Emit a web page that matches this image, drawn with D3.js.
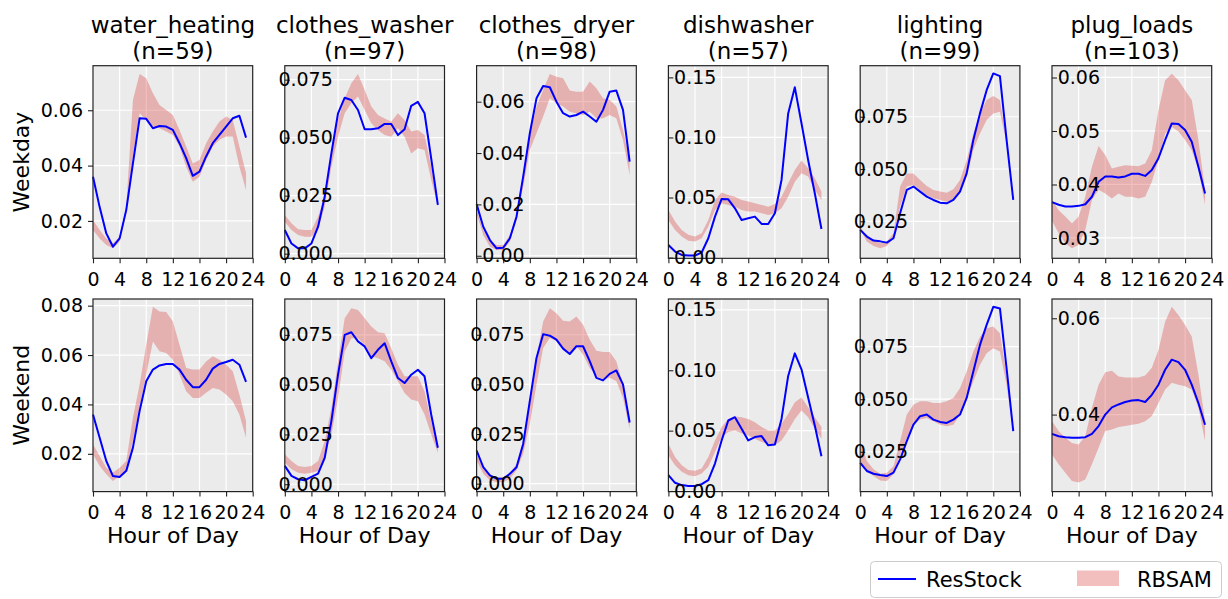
<!DOCTYPE html>
<html><head><meta charset="utf-8">
<script src="https://cdn.jsdelivr.net/npm/d3@7"></script>
<style>
body{margin:0;background:#fff}
svg{display:block}
text{font-family:"DejaVu Sans",sans-serif;fill:#000}
</style>
</head><body>
<svg id="c" width="1228" height="599"></svg>
<script>
// ---------- data ----------
const appliances = ["water_heating","clothes_washer","clothes_dryer","dishwasher","lighting","plug_loads"];
const sampleCounts = [59,97,98,57,99,103];
const dayTypes = ["Weekday","Weekend"];
const hours = [0,1,2,3,4,5,6,7,8,9,10,11,12,13,14,15,16,17,18,19,20,21,22,23];
const xTicks = [0,4,8,12,16,20,24];
const seriesNames = ["ResStock","RBSAM"];

// Weekday
const wh_wd_res = [0.036,0.025,0.0155,0.0107,0.0137,0.024,0.0408,0.0571,0.0569,0.0535,0.0543,0.0541,0.0529,0.0481,0.0427,0.0363,0.0378,0.0433,0.0481,0.0511,0.0541,0.0571,0.058,0.0501];
const wh_wd_lo  = [0.0167,0.0137,0.0113,0.0101,0.0125,0.0228,0.0433,0.0589,0.0565,0.0541,0.0535,0.0523,0.0511,0.0469,0.0396,0.0342,0.036,0.042,0.0469,0.0493,0.0505,0.0505,0.0396,0.0312];
const wh_wd_hi  = [0.0203,0.0167,0.0137,0.0119,0.0143,0.0252,0.0637,0.0731,0.0716,0.0661,0.0619,0.0601,0.0583,0.0529,0.0469,0.0408,0.042,0.0481,0.0523,0.0559,0.0577,0.0565,0.0469,0.0372];

const cw_wd_res = [0.0102,0.0044,0.0023,0.0023,0.0044,0.0116,0.0246,0.0432,0.0605,0.0672,0.0662,0.0619,0.0536,0.0536,0.054,0.0559,0.0559,0.0511,0.0536,0.0637,0.0654,0.0605,0.0411,0.021];
const cw_wd_lo  = [0.0138,0.0102,0.008,0.0073,0.0073,0.0102,0.0203,0.0375,0.0504,0.0605,0.0648,0.0677,0.0619,0.0562,0.0533,0.0511,0.0504,0.054,0.0504,0.0432,0.0454,0.0447,0.0318,0.0203];
const cw_wd_hi  = [0.0167,0.0131,0.0105,0.0102,0.0102,0.0159,0.0246,0.0432,0.0576,0.067,0.0734,0.0774,0.0705,0.0634,0.0598,0.0583,0.0569,0.0605,0.0576,0.0526,0.0533,0.0511,0.0375,0.0217];

const cd_wd_res = [0.0201,0.0113,0.0061,0.0029,0.0031,0.0068,0.0152,0.0308,0.0477,0.0613,0.0661,0.0656,0.06,0.0555,0.0542,0.0548,0.0561,0.0542,0.0522,0.0568,0.0639,0.0643,0.0568,0.0366];
const cd_wd_lo  = [0.0165,0.0081,0.0035,0.0022,0.0022,0.0055,0.0139,0.0269,0.0412,0.0477,0.0542,0.0613,0.0594,0.0581,0.0561,0.0555,0.0548,0.0561,0.0535,0.0535,0.0548,0.0535,0.0451,0.0314];
const cd_wd_hi  = [0.0178,0.01,0.0055,0.0042,0.0042,0.0081,0.0165,0.0321,0.0477,0.0581,0.0645,0.0708,0.0697,0.0691,0.0643,0.0639,0.0639,0.0678,0.0652,0.0613,0.0607,0.0581,0.049,0.0373];

const dw_wd_res = [0.0105,0.005,0.0022,0.0017,0.0017,0.0042,0.0161,0.0341,0.0488,0.0485,0.041,0.0313,0.0327,0.0341,0.028,0.028,0.0369,0.0646,0.12,0.1417,0.1118,0.0812,0.0535,0.0238];
const dw_wd_lo  = [0.0313,0.023,0.0175,0.0141,0.0133,0.0161,0.0258,0.0397,0.0452,0.0438,0.0424,0.0397,0.0383,0.0383,0.0369,0.0355,0.0369,0.041,0.0507,0.0632,0.0702,0.0674,0.0563,0.048];
const dw_wd_hi  = [0.0397,0.03,0.023,0.0189,0.0175,0.0202,0.0313,0.048,0.0541,0.0521,0.0507,0.048,0.0466,0.0452,0.0438,0.0424,0.0446,0.0507,0.0618,0.0729,0.0807,0.0743,0.066,0.0549];

const lt_wd_res = [0.0209,0.0177,0.0158,0.0154,0.0148,0.0169,0.0288,0.04,0.0416,0.0392,0.0368,0.0352,0.0339,0.0336,0.0352,0.0392,0.0479,0.0639,0.0766,0.0877,0.0957,0.0944,0.0639,0.0352];
const lt_wd_lo  = [0.0209,0.0153,0.0132,0.0121,0.0132,0.0169,0.032,0.0416,0.0424,0.04,0.0376,0.036,0.0352,0.0344,0.0352,0.0392,0.0463,0.0591,0.067,0.0734,0.0766,0.0774,0.0623,0.0352];
const lt_wd_hi  = [0.0225,0.0177,0.0161,0.0145,0.0153,0.0193,0.0416,0.0479,0.0479,0.0447,0.0419,0.04,0.0392,0.0387,0.0403,0.0447,0.0543,0.067,0.0766,0.083,0.0849,0.083,0.0639,0.0368];

const pl_wd_res = [0.0367,0.0362,0.0359,0.0359,0.036,0.0363,0.0377,0.0405,0.0415,0.0415,0.0413,0.0415,0.042,0.042,0.0416,0.0427,0.0449,0.0483,0.0514,0.0513,0.0502,0.048,0.0433,0.0383];
const pl_wd_lo  = [0.0332,0.0309,0.029,0.0281,0.0287,0.0315,0.0371,0.039,0.0383,0.0374,0.0383,0.0377,0.0377,0.0374,0.0377,0.0405,0.0446,0.0495,0.0508,0.0499,0.0483,0.0464,0.0427,0.0362];
const pl_wd_hi  = [0.0371,0.0352,0.034,0.0327,0.034,0.0377,0.0433,0.0472,0.0455,0.043,0.0433,0.0436,0.0435,0.0434,0.0439,0.0464,0.0539,0.0595,0.0607,0.0595,0.0576,0.0558,0.0483,0.039];

// Weekend
const wh_we_res = [0.0359,0.0265,0.0171,0.011,0.0106,0.0131,0.0225,0.0373,0.0494,0.0541,0.0558,0.0564,0.0564,0.0541,0.05,0.047,0.047,0.05,0.0545,0.0564,0.0572,0.0581,0.0561,0.0491];
const wh_we_lo  = [0.0198,0.0151,0.0117,0.009,0.011,0.0131,0.0252,0.0386,0.0521,0.0655,0.0615,0.0608,0.0581,0.0521,0.0453,0.0426,0.0426,0.0447,0.0467,0.046,0.044,0.0413,0.0359,0.0265];
const wh_we_hi  = [0.0238,0.0191,0.0144,0.0124,0.0144,0.0171,0.0346,0.048,0.0642,0.0796,0.0776,0.0774,0.0736,0.0642,0.0548,0.0541,0.0541,0.0574,0.0595,0.0581,0.0561,0.0534,0.044,0.0332];

const cw_we_res = [0.0092,0.0042,0.0025,0.002,0.0037,0.0053,0.0133,0.0317,0.055,0.075,0.0763,0.0717,0.0692,0.0633,0.0675,0.0708,0.0617,0.0533,0.0508,0.055,0.0575,0.0542,0.035,0.0183];
const cw_we_lo  = [0.0108,0.0075,0.0058,0.0053,0.0058,0.0067,0.0142,0.025,0.0433,0.0667,0.0733,0.0733,0.07,0.0642,0.0633,0.0617,0.0575,0.0517,0.0458,0.0425,0.0417,0.035,0.025,0.0158];
const cw_we_hi  = [0.015,0.0117,0.0092,0.0087,0.0092,0.0117,0.0217,0.0383,0.0617,0.0833,0.0883,0.0875,0.0833,0.0792,0.0763,0.0758,0.0683,0.06,0.0542,0.0542,0.0542,0.0467,0.0317,0.0183];

const cd_we_res = [0.0167,0.0083,0.0042,0.0025,0.0025,0.005,0.0083,0.02,0.0417,0.0633,0.0753,0.0745,0.0725,0.068,0.0653,0.0692,0.0692,0.0617,0.0533,0.052,0.0553,0.057,0.05,0.0308];
const cd_we_lo  = [0.0117,0.005,0.0017,0.0008,0.0008,0.0025,0.0067,0.015,0.03,0.05,0.0683,0.0733,0.0717,0.0675,0.0658,0.0692,0.065,0.0583,0.0542,0.0525,0.0533,0.0517,0.0433,0.0275];
const cd_we_hi  = [0.015,0.0075,0.0042,0.003,0.0033,0.005,0.01,0.0217,0.0417,0.0633,0.0817,0.0883,0.0858,0.082,0.0817,0.0842,0.08,0.0725,0.067,0.0663,0.0663,0.0617,0.05,0.0333];

const dw_we_res = [0.0131,0.0068,0.0049,0.0041,0.0041,0.0057,0.009,0.0227,0.0419,0.0584,0.0611,0.0515,0.0419,0.0447,0.0455,0.0378,0.0386,0.0597,0.0953,0.114,0.1008,0.0775,0.0542,0.0288];
const dw_we_lo  = [0.0296,0.0214,0.0159,0.0131,0.0123,0.0145,0.02,0.0323,0.0447,0.0488,0.0501,0.0479,0.046,0.0433,0.0405,0.0392,0.0378,0.0419,0.0501,0.0597,0.0666,0.0611,0.0515,0.0433];
const dw_we_hi  = [0.0392,0.0282,0.0214,0.0173,0.0167,0.0186,0.0282,0.0419,0.0529,0.0597,0.0616,0.0611,0.0597,0.057,0.0529,0.0501,0.0501,0.0556,0.0638,0.0734,0.0775,0.0693,0.0611,0.0529];

const lt_we_res = [0.0198,0.0159,0.0146,0.014,0.0135,0.0151,0.0214,0.0301,0.0379,0.0419,0.0427,0.0403,0.0392,0.0387,0.0403,0.0427,0.0506,0.0632,0.0758,0.0853,0.0939,0.0931,0.0647,0.0348];
const lt_we_lo  = [0.0198,0.0159,0.0135,0.0114,0.0111,0.0143,0.0237,0.0316,0.0379,0.0403,0.0411,0.0395,0.0379,0.0372,0.0379,0.0427,0.0506,0.0584,0.0663,0.0718,0.0742,0.0726,0.0569,0.034];
const lt_we_hi  = [0.0293,0.0206,0.0167,0.0146,0.0151,0.0182,0.0301,0.0427,0.0474,0.049,0.049,0.0482,0.0482,0.049,0.0506,0.0553,0.0632,0.0726,0.0797,0.0837,0.0845,0.0813,0.0616,0.0364];

const pl_we_res = [0.036,0.0355,0.0353,0.0352,0.0352,0.0353,0.036,0.0376,0.04,0.0415,0.0421,0.0426,0.0429,0.043,0.0426,0.0441,0.0462,0.0493,0.0514,0.0509,0.0493,0.0462,0.0424,0.0379];
const pl_we_lo  = [0.0317,0.0297,0.0279,0.0262,0.0259,0.0265,0.0297,0.0331,0.0366,0.0369,0.0374,0.0376,0.0379,0.0381,0.0386,0.0397,0.0424,0.0452,0.0466,0.0462,0.0459,0.0452,0.0414,0.0345];
const pl_we_hi  = [0.0386,0.0366,0.0352,0.0341,0.0338,0.0355,0.0414,0.0462,0.0488,0.0491,0.0479,0.0477,0.0477,0.0477,0.0481,0.0497,0.0534,0.0593,0.0624,0.0607,0.0586,0.0562,0.0483,0.0386];

// axis limits and tick labels
const yLimWeekday = [[0.0065,0.0761],[-0.002,0.081],[-0.001,0.074],[-0.0006,0.1597],[0.0073,0.0994],[0.0262,0.0622]];
const yLimWeekend = [[0.0047,0.0827],[-0.0037,0.093],[-0.004,0.093],[-0.0005,0.159],[0.0061,0.0976],[0.024,0.064]];
const yTicksWeekday = [[0.02,0.04,0.06],[0,0.025,0.05,0.075],[0,0.02,0.04,0.06],[0,0.05,0.1,0.15],[0.025,0.05,0.075],[0.03,0.04,0.05,0.06]];
const yTicksWeekend = [[0.02,0.04,0.06,0.08],[0,0.025,0.05,0.075],[0,0.025,0.05,0.075],[0,0.05,0.1,0.15],[0.025,0.05,0.075],[0.04,0.06]];
const yFmtWeekday = [".2f",".3f",".2f",".2f",".3f",".2f"];
const yFmtWeekend = [".2f",".3f",".3f",".2f",".3f",".2f"];

const resWeekday = [wh_wd_res,cw_wd_res,cd_wd_res,dw_wd_res,lt_wd_res,pl_wd_res];
const loWeekday  = [wh_wd_lo,cw_wd_lo,cd_wd_lo,dw_wd_lo,lt_wd_lo,pl_wd_lo];
const hiWeekday  = [wh_wd_hi,cw_wd_hi,cd_wd_hi,dw_wd_hi,lt_wd_hi,pl_wd_hi];
const resWeekend = [wh_we_res,cw_we_res,cd_we_res,dw_we_res,lt_we_res,pl_we_res];
const loWeekend  = [wh_we_lo,cw_we_lo,cd_we_lo,dw_we_lo,lt_we_lo,pl_we_lo];
const hiWeekend  = [wh_we_hi,cw_we_hi,cd_we_hi,dw_we_hi,lt_we_hi,pl_we_hi];

// ---------- layout ----------
const L = {left:93, top:65.7, pw:159.7, ph:192.6, colStep:191.8, rowStep:233.3};
const BAND = "#d62728", LINE = "#0000ff", BG = "#ebebeb";
const svg = d3.select("#c");

const rows = [
  {name:dayTypes[0], res:resWeekday, lo:loWeekday, hi:hiWeekday, lim:yLimWeekday, ticks:yTicksWeekday, fmt:yFmtWeekday},
  {name:dayTypes[1], res:resWeekend, lo:loWeekend, hi:hiWeekend, lim:yLimWeekend, ticks:yTicksWeekend, fmt:yFmtWeekend}
];

rows.forEach((row, r) => {
  appliances.forEach((app, c) => {
    const x0 = L.left + c*L.colStep, y0 = L.top + r*L.rowStep;
    const g = svg.append("g").attr("transform", `translate(${x0},${y0})`);
    const x = d3.scaleLinear().domain([0,24]).range([0,L.pw]);
    const y = d3.scaleLinear().domain(row.lim[c]).range([L.ph,0]);

    g.append("rect").attr("width",L.pw).attr("height",L.ph).attr("fill",BG);
    // grid
    g.selectAll(".gx").data(xTicks).enter().append("line")
      .attr("x1",d=>x(d)).attr("x2",d=>x(d)).attr("y1",0).attr("y2",L.ph)
      .attr("stroke","#fff").attr("stroke-width",1.2);
    g.selectAll(".gy").data(row.ticks[c]).enter().append("line")
      .attr("x1",0).attr("x2",L.pw).attr("y1",d=>y(d)).attr("y2",d=>y(d))
      .attr("stroke","#fff").attr("stroke-width",1.2);

    const pts = hours.map((h,i)=>({h, lo:row.lo[c][i], hi:row.hi[c][i], v:row.res[c][i]}));
    g.append("path").datum(pts)
      .attr("d", d3.area().x(d=>x(d.h)).y0(d=>y(d.lo)).y1(d=>y(d.hi)))
      .attr("fill",BAND).attr("fill-opacity",0.3);
    g.append("path").datum(pts)
      .attr("d", d3.line().x(d=>x(d.h)).y(d=>y(d.v)))
      .attr("fill","none").attr("stroke",LINE).attr("stroke-width",2).attr("stroke-linejoin","round");

    // frame
    g.append("rect").attr("width",L.pw).attr("height",L.ph)
      .attr("fill","none").attr("stroke","#222").attr("stroke-width",1.2);

    // x axis
    const gx = g.append("g").attr("transform",`translate(0,${L.ph})`)
      .call(d3.axisBottom(x).tickValues(xTicks).tickSize(5).tickPadding(9).tickFormat(d3.format("d")));
    gx.select(".domain").remove();
    gx.selectAll("line").attr("stroke","#222").attr("stroke-width",1.1);
    gx.selectAll("text").attr("font-size",19).attr("font-family","DejaVu Sans").attr("fill","#000");

    // y axis
    let ax = d3.axisLeft(y).tickValues(row.ticks[c]).tickFormat(d3.format(row.fmt[c])).tickSizeOuter(0);
    if (c === 0) ax = ax.tickSizeInner(5).tickPadding(5);
    else ax = ax.tickSizeInner(-5).tickPadding(-48);
    const gy = g.append("g").call(ax);
    gy.select(".domain").remove();
    gy.selectAll("line").attr("stroke","#222").attr("stroke-width",1.1);
    gy.selectAll("text").attr("font-size",19).attr("font-family","DejaVu Sans").attr("fill","#000");

    if (r === 0) {
      g.append("text").attr("x",L.pw/2).attr("y",-33.2).attr("text-anchor","middle")
        .attr("font-size",23).text(app);
      g.append("text").attr("x",L.pw/2).attr("y",-7.2).attr("text-anchor","middle")
        .attr("font-size",23).text(`(n=${sampleCounts[c]})`);
    }
    if (r === 1) {
      g.append("text").attr("x",L.pw/2).attr("y",L.ph+51).attr("text-anchor","middle")
        .attr("font-size",22).text("Hour of Day");
    }
    if (c === 0) {
      g.append("text").attr("transform",`translate(${-64},${L.ph/2}) rotate(-90)`)
        .attr("text-anchor","middle").attr("font-size",22).text(row.name);
    }
  });
});

// ---------- legend ----------
const lg = svg.append("g").attr("transform","translate(870,561)");
lg.append("rect").attr("x",0.5).attr("y",0.5).attr("width",351).attr("height",36).attr("rx",4)
  .attr("fill","#fff").attr("stroke","#cccccc").attr("stroke-width",1);
lg.append("line").attr("x1",8).attr("x2",46).attr("y1",18).attr("y2",18)
  .attr("stroke",LINE).attr("stroke-width",2);
lg.append("text").attr("x",56).attr("y",25.5).attr("font-size",21).text(seriesNames[0]);
lg.append("rect").attr("x",207).attr("y",9.5).attr("width",42).attr("height",15.5)
  .attr("fill",BAND).attr("fill-opacity",0.3);
lg.append("text").attr("x",267).attr("y",25.5).attr("font-size",21).text(seriesNames[1]);
</script>
</body></html>
